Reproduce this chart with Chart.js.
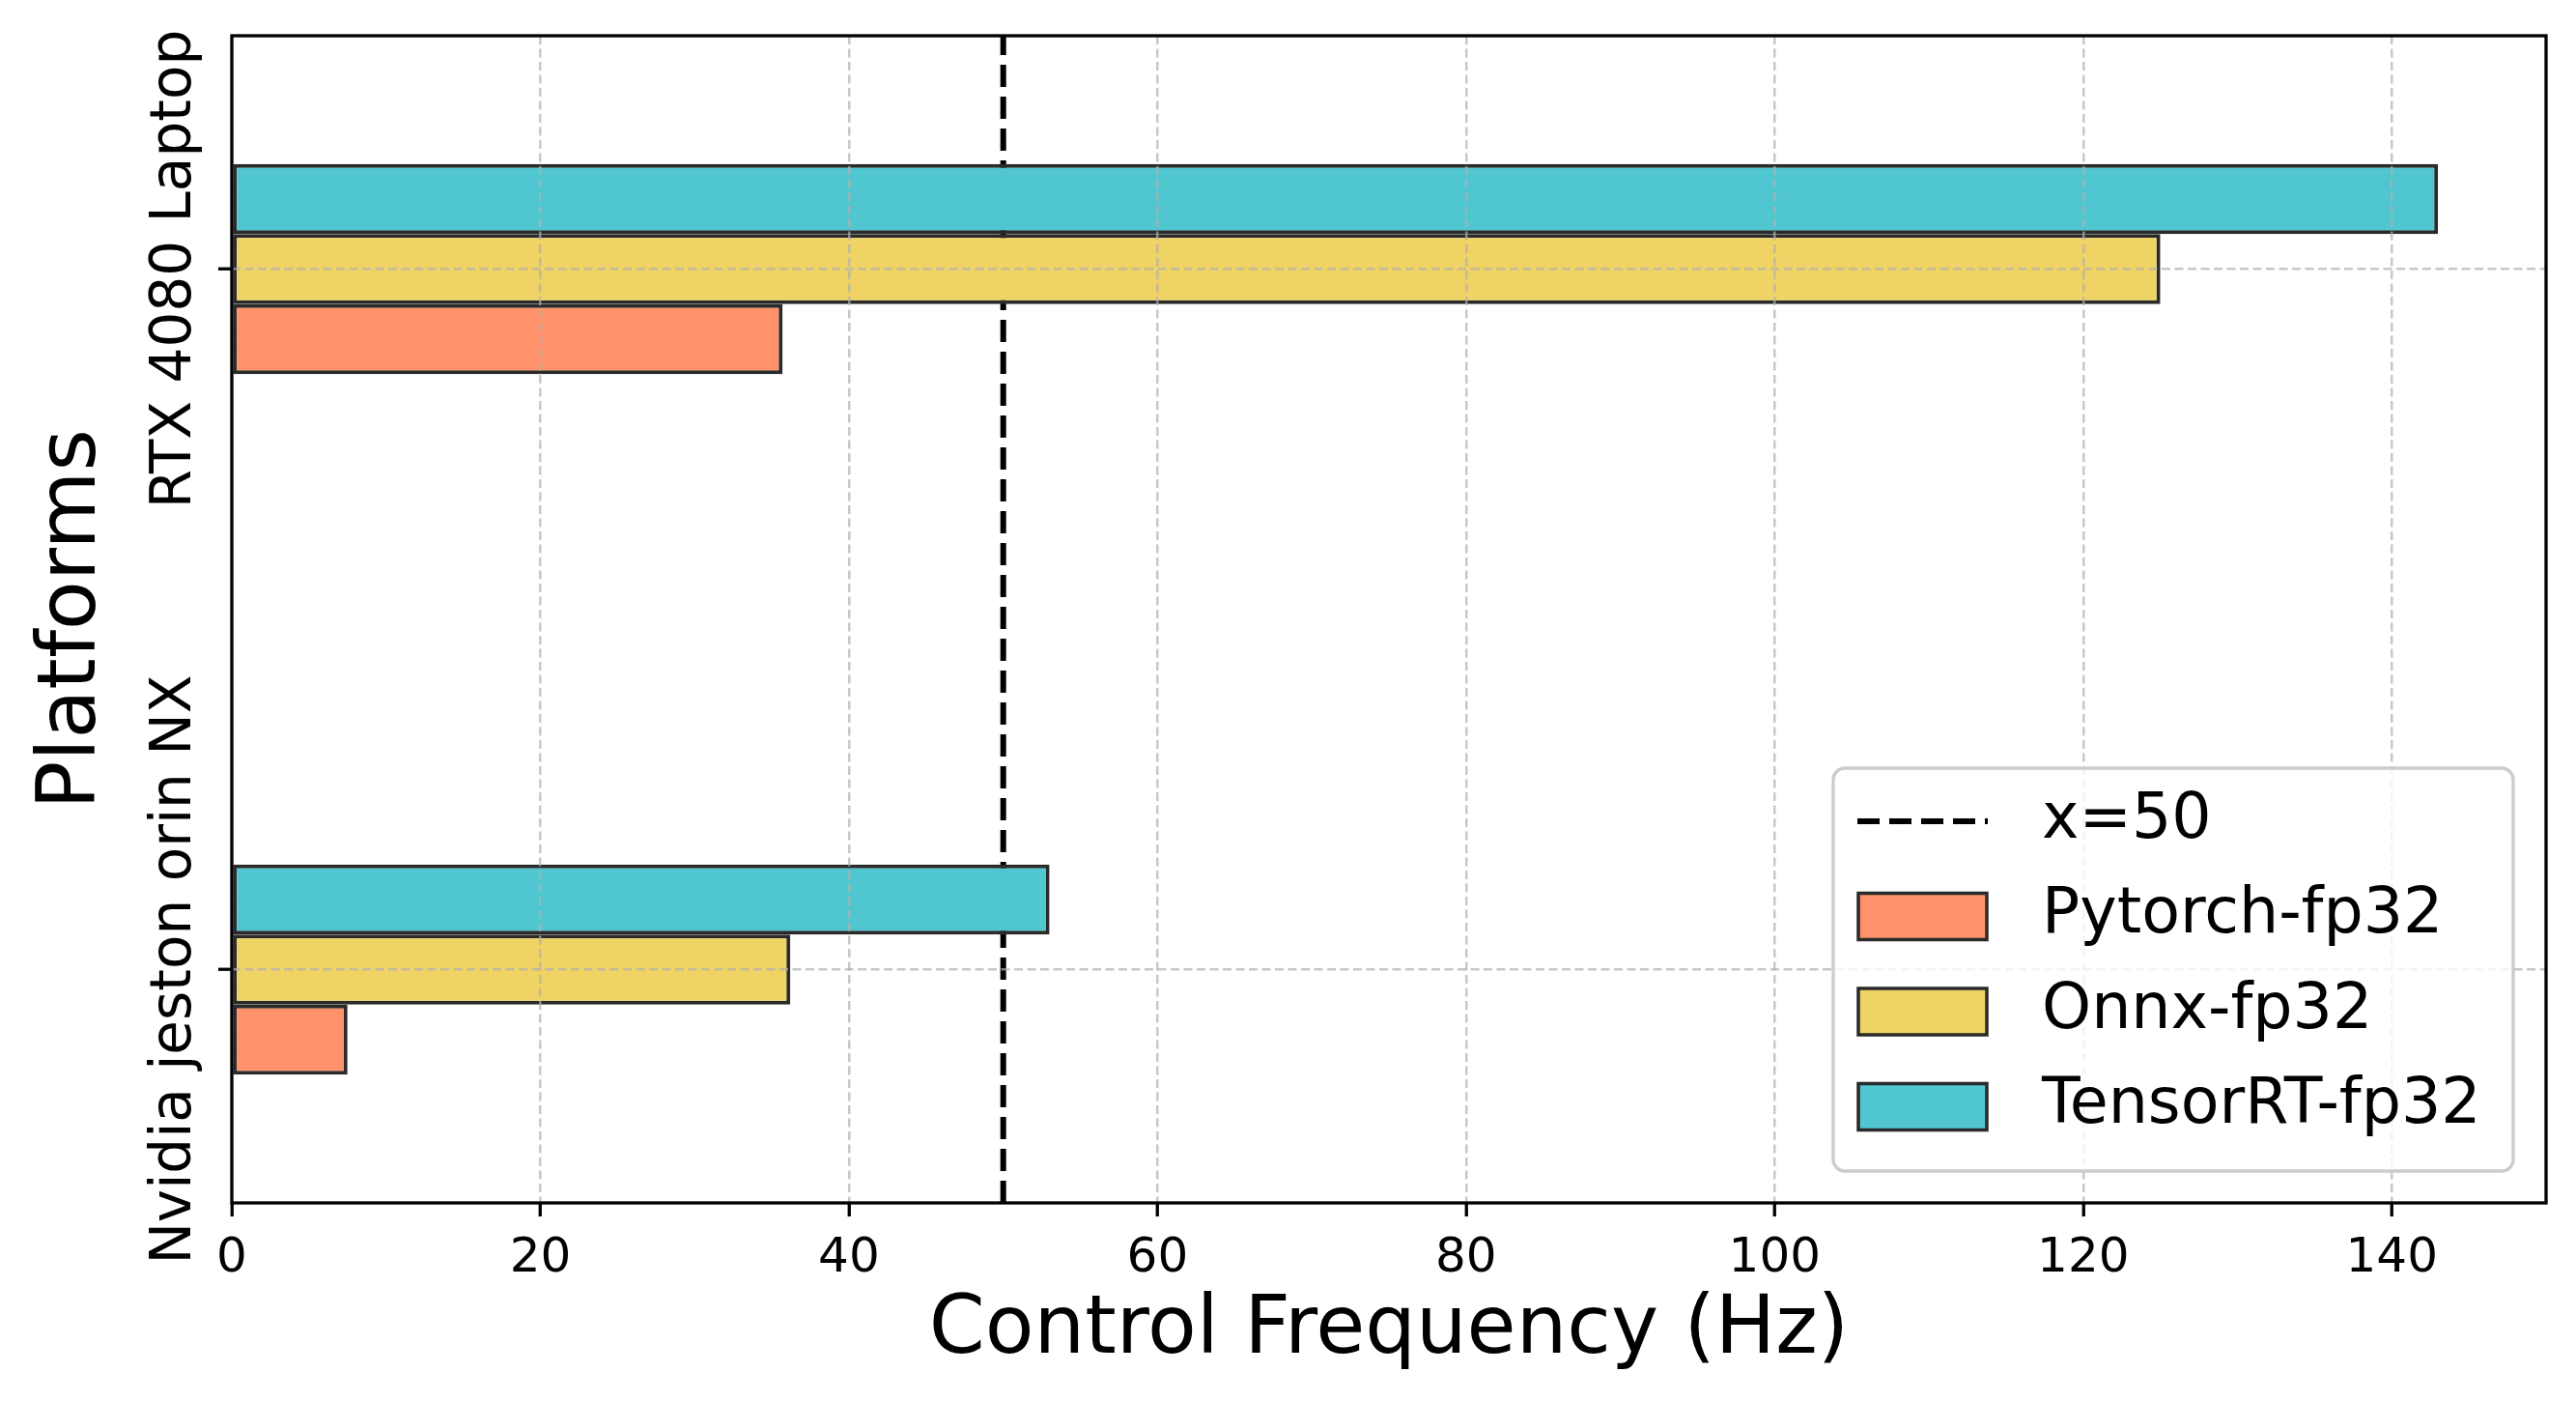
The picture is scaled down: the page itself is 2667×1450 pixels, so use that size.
<!DOCTYPE html>
<html>
<head>
<meta charset="utf-8">
<script src="https://cdn.jsdelivr.net/npm/chart.js@4.4.1/dist/chart.umd.min.js"></script>
<style>
  html, body { margin: 0; padding: 0; background: #fff; }
  canvas { display: block; }
</style>
</head>
<body>
<canvas id="freqChart" width="2667" height="1450"></canvas>
<script>
// Control frequency per platform (Hz)
const PLATFORMS = ['Nvidia jeston orin NX', 'RTX 4080 Laptop'];
const PLATFORM_POS = [0, 1];
const PYTORCH = [7.5, 35.7];
const ONNX = [36.2, 125.0];
const TENSORRT = [53.0, 143.0];
const THRESHOLD = 50;
const X_MAX = 150;
const X_STEP = 20;
const Y_MIN = -0.333;
const Y_MAX = 1.333;
const LEGEND_ORDER = ['x=50', 'Pytorch-fp32', 'Onnx-fp32', 'TensorRT-fp32'];

const toPoints = vals => PLATFORM_POS.map((y, i) => ({ x: vals[i], y: y }));

Chart.defaults.font.family = "'DejaVu Sans', sans-serif";
Chart.defaults.color = '#000';

// full box around the plot, like matplotlib spines
const frame = {
  id: 'frame',
  afterDraw(chart) {
    const { ctx, chartArea: a } = chart;
    ctx.save();
    ctx.strokeStyle = '#000';
    ctx.lineWidth = 3.3;
    ctx.strokeRect(a.left, a.top, a.right - a.left, a.bottom - a.top);
    ctx.restore();
  }
};

// rotated y tick labels centred on each platform
const yLabels = {
  id: 'yLabels',
  afterDraw(chart) {
    const { ctx, chartArea: a } = chart;
    const ys = chart.scales.y;
    ctx.save();
    ctx.fillStyle = '#000';
    ctx.font = "58px 'DejaVu Sans'";
    ctx.textAlign = 'center';
    ctx.textBaseline = 'alphabetic';
    PLATFORM_POS.forEach((p, i) => {
      ctx.save();
      ctx.translate(a.left - 43, ys.getPixelForValue(p));
      ctx.rotate(-Math.PI / 2);
      ctx.fillText(PLATFORMS[i], 0, 0);
      ctx.restore();
    });
    ctx.restore();
  }
};

const legendBox = {
  id: 'legendBox',
  afterDraw(chart) {
    const { ctx, chartArea: a } = chart;
    const w = 704, h = 417;
    const x0 = a.right - 34 - w, y0 = a.bottom - 33 - h;
    ctx.save();
    ctx.fillStyle = 'rgba(255,255,255,0.8)';
    ctx.strokeStyle = '#cccccc';
    ctx.lineWidth = 3.3;
    ctx.beginPath();
    ctx.roundRect(x0, y0, w, h, 12);
    ctx.fill();
    ctx.stroke();

    const items = chart.data.datasets.slice().sort(
      (p, q) => LEGEND_ORDER.indexOf(p.label) - LEGEND_ORDER.indexOf(q.label));
    ctx.font = "65px 'DejaVu Sans'";
    ctx.textAlign = 'left';
    ctx.textBaseline = 'middle';
    items.forEach((d, k) => {
      const cy = y0 + 55 + k * 98.5;
      if (d.type === 'line') {
        ctx.strokeStyle = d.borderColor;
        ctx.lineWidth = d.borderWidth;
        ctx.setLineDash(d.borderDash);
        ctx.beginPath();
        ctx.moveTo(x0 + 25, cy);
        ctx.lineTo(x0 + 160, cy);
        ctx.stroke();
        ctx.setLineDash([]);
      } else {
        ctx.fillStyle = d.backgroundColor;
        ctx.fillRect(x0 + 26, cy - 24, 133, 48);
        ctx.strokeStyle = d.borderColor;
        ctx.lineWidth = 3.5;
        ctx.strokeRect(x0 + 26, cy - 24, 133, 48);
      }
      ctx.fillStyle = '#000';
      ctx.fillText(d.label, x0 + 216, cy);
    });
    ctx.restore();
  }
};

const barStyle = {
  type: 'bar',
  borderColor: '#2a2a2a',
  borderWidth: 4,
  borderSkipped: false,
  barPercentage: 1,
  categoryPercentage: 0.3
};

new Chart(document.getElementById('freqChart').getContext('2d'), {
  data: {
    datasets: [
      { ...barStyle, label: 'TensorRT-fp32', data: toPoints(TENSORRT), backgroundColor: '#4FC6D0' },
      { ...barStyle, label: 'Onnx-fp32', data: toPoints(ONNX), backgroundColor: '#EFD364' },
      { ...barStyle, label: 'Pytorch-fp32', data: toPoints(PYTORCH), backgroundColor: '#FF926A' },
      {
        type: 'line',
        label: 'x=50',
        data: [{ x: THRESHOLD, y: Y_MIN }, { x: THRESHOLD, y: Y_MAX }],
        borderColor: '#000',
        borderWidth: 6,
        borderDash: [23, 10],
        pointRadius: 0,
        fill: false
      }
    ]
  },
  options: {
    indexAxis: 'y',
    responsive: false,
    animation: false,
    devicePixelRatio: 1,
    layout: { padding: { top: 37, right: 31, left: 0, bottom: 0 } },
    plugins: {
      legend: { display: false },
      tooltip: { enabled: false }
    },
    scales: {
      x: {
        type: 'linear',
        position: 'bottom',
        min: 0,
        max: X_MAX,
        ticks: { stepSize: X_STEP, includeBounds: false, maxRotation: 0, padding: 14,
                 font: { size: 50 }, color: '#000' },
        grid: { color: 'rgba(176,176,176,0.7)', lineWidth: 2.5, tickColor: '#000',
                tickWidth: 3.3, tickLength: 14, tickBorderDash: [], offset: false, z: 1 },
        border: { display: false, dash: [9, 4.5] },
        title: { display: true, text: 'Control Frequency (Hz)', font: { size: 83 },
                 color: '#000', padding: { top: 0, bottom: 22 } },
        afterFit(scale) { scale.height = 205; }
      },
      y: {
        type: 'linear',
        position: 'left',
        min: Y_MIN,
        max: Y_MAX,
        offset: false,
        afterBuildTicks(scale) { scale.ticks = PLATFORM_POS.map(v => ({ value: v })); },
        ticks: { display: false },
        grid: { color: 'rgba(176,176,176,0.7)', lineWidth: 2.5, tickColor: '#000',
                tickWidth: 3.3, tickLength: 14, tickBorderDash: [], offset: false, z: 1 },
        border: { display: false, dash: [9, 4.5] },
        title: { display: true, text: 'Platforms', font: { size: 83 },
                 color: '#000', padding: { top: 27, bottom: 0 } },
        afterFit(scale) { scale.width = 240; }
      }
    }
  },
  plugins: [frame, yLabels, legendBox]
});
</script>
</body>
</html>
